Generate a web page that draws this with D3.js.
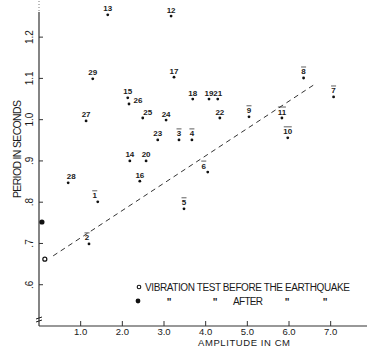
<!DOCTYPE html>
<html>
<head>
<meta charset="utf-8">
<script src="https://cdn.jsdelivr.net/npm/d3@7"></script>
<style>
  body { margin: 0; background: #fff; }
  text { font-family: "Liberation Sans", Arial, sans-serif; fill: #1a1a1a; }
</style>
</head>
<body>
<div id="chart-area"></div>
<script>
// building numbers, amplitude (cm) and period (s)
var ids       = [13, 12, 29, 27, 15, 26, 17, 18, 19, 21, 25, 24, 22, 23, 3, 4, 14, 20, 16, 6, 5, 8, 7, 9, 11, 10, 28, 1, 2];
var amplitude = [1.65, 3.17, 1.29, 1.13, 2.13, 2.16, 3.24, 3.69, 4.08, 4.29, 2.49, 3.05, 4.34, 2.85, 3.36, 3.67, 2.18, 2.57, 2.42, 4.05, 3.48, 6.35, 7.07, 5.04, 5.83, 5.97, 0.70, 1.41, 1.20];
var period    = [1.254, 1.251, 1.099, 0.997, 1.053, 1.038, 1.103, 1.050, 1.050, 1.050, 1.004, 0.999, 1.004, 0.951, 0.951, 0.951, 0.900, 0.900, 0.851, 0.873, 0.784, 1.101, 1.055, 1.007, 1.004, 0.956, 0.847, 0.801, 0.699];
// vibration test points
var beforePoint = [0.14, 0.662];
var afterPoint  = [0.07, 0.752];
// dashed trend line
var trendAmp    = [0.34, 6.59];
var trendPeriod = [0.670, 1.084];
var xTicks = [1, 2, 3, 4, 5, 6, 7];
var xTickLabels = ["1.0", "2.0", "3.0", "4.0", "5.0", "6.0", "7.0"];
var yTicks = [0.6, 0.7, 0.8, 0.9, 1.0, 1.1, 1.2];
var yTickLabels = [".6", ".7", ".8", ".9", "1.0", "1.1", "1.2"];

var W = 371, H = 347;
var svg = d3.select("#chart-area").append("svg")
    .attr("width", W)
    .attr("height", H);

var x = d3.scaleLinear().domain([0, 7.8]).range([39, 364]);
var y = d3.scaleLinear().domain([0.5, 1.29]).range([326, 0]);

// axes lines
svg.append("line")
    .attr("x1", 39).attr("x2", 39)
    .attr("y1", 12).attr("y2", y(0.5))
    .attr("stroke", "#333").attr("stroke-width", 1.2);
svg.append("line")
    .attr("x1", 39).attr("x2", 39)
    .attr("y1", 1).attr("y2", 12)
    .attr("stroke", "#777").attr("stroke-width", 1)
    .attr("stroke-dasharray", "1,2");
svg.append("line")
    .attr("x1", 39).attr("x2", 367)
    .attr("y1", y(0.5)).attr("y2", y(0.5))
    .attr("stroke", "#333").attr("stroke-width", 1.2);

// axis break mark
svg.append("path")
    .attr("d", "M36,319 l6,-2 M36,322 l6,-2")
    .attr("stroke", "#222").attr("stroke-width", 1).attr("fill", "none");

// x ticks
var xAxisG = svg.append("g");
xAxisG.selectAll("line").data(xTicks).enter().append("line")
    .attr("x1", function(d) { return x(d); })
    .attr("x2", function(d) { return x(d); })
    .attr("y1", y(0.5)).attr("y2", y(0.5) - 5)
    .attr("stroke", "#333");
xAxisG.selectAll("text").data(xTicks).enter().append("text")
    .attr("x", function(d) { return x(d); })
    .attr("y", 335)
    .attr("text-anchor", "middle")
    .attr("font-size", "9.5px")
    .text(function(d, i) { return xTickLabels[i]; });

// y ticks
var yAxisG = svg.append("g");
yAxisG.selectAll("line").data(yTicks).enter().append("line")
    .attr("x1", 39).attr("x2", 43)
    .attr("y1", function(d) { return y(d); })
    .attr("y2", function(d) { return y(d); })
    .attr("stroke", "#333");
yAxisG.selectAll("text").data(yTicks).enter().append("text")
    .attr("transform", function(d) { return "translate(33," + y(d) + ") rotate(-90)"; })
    .attr("text-anchor", "middle")
    .attr("font-size", "10px")
    .text(function(d, i) { return yTickLabels[i]; });

// axis titles
svg.append("text")
    .attr("x", 244).attr("y", 346)
    .attr("text-anchor", "middle")
    .attr("font-size", "9.5px")
    .attr("textLength", 92)
    .text("AMPLITUDE  IN CM");
svg.append("text")
    .attr("transform", "translate(21,149) rotate(-90)")
    .attr("text-anchor", "middle")
    .attr("font-size", "10.5px")
    .attr("textLength", 98)
    .text("PERIOD IN SECONDS");

// trend line
svg.append("line")
    .attr("x1", x(trendAmp[0])).attr("y1", y(trendPeriod[0]))
    .attr("x2", x(trendAmp[1])).attr("y2", y(trendPeriod[1]))
    .attr("stroke", "#333").attr("stroke-width", 1)
    .attr("stroke-dasharray", "5,4");

// points
var pts = ids.map(function(id, i) { return { id: id, a: amplitude[i], p: period[i] }; });
var nudge = { 26: [9, 3], 25: [5, 0], 6: [-4, 0], 28: [3, 0], 1: [-3, 0], 2: [-2, 0] };

svg.selectAll("circle.pt").data(pts).enter().append("circle")
    .attr("class", "pt")
    .attr("cx", function(d) { return x(d.a); })
    .attr("cy", function(d) { return y(d.p); })
    .attr("r", 1.4)
    .attr("fill", "#111");

var lab = svg.selectAll("g.lab").data(pts).enter().append("g")
    .attr("class", "lab")
    .attr("transform", function(d) {
        var n = nudge[d.id] || [0, 0];
        return "translate(" + (x(d.a) + n[0]) + "," + (y(d.p) - 3.5 + n[1]) + ")";
    });
lab.append("text")
    .attr("text-anchor", "middle")
    .attr("font-size", "8px")
    .attr("font-weight", "bold")
    .text(function(d) { return d.id; });
lab.filter(function(d) { return d.id <= 11; }).append("line")
    .attr("x1", function(d) { return d.id >= 10 ? -4 : -2.5; })
    .attr("x2", function(d) { return d.id >= 10 ? 4 : 2.5; })
    .attr("y1", -7.5).attr("y2", -7.5)
    .attr("stroke", "#333").attr("stroke-width", 0.8);

// vibration test markers
svg.append("circle")
    .attr("cx", x(beforePoint[0])).attr("cy", y(beforePoint[1]))
    .attr("r", 2).attr("fill", "none").attr("stroke", "#111").attr("stroke-width", 1.2);
svg.append("circle")
    .attr("cx", x(afterPoint[0])).attr("cy", y(afterPoint[1]))
    .attr("r", 2.6).attr("fill", "#111");

// legend
var legend = svg.append("g");
legend.append("circle")
    .attr("cx", 139).attr("cy", 287).attr("r", 1.8)
    .attr("fill", "none").attr("stroke", "#111").attr("stroke-width", 1.1);
legend.append("text")
    .attr("x", 145).attr("y", 291)
    .attr("font-size", "10px")
    .attr("textLength", 205)
    .text("VIBRATION TEST  BEFORE THE EARTHQUAKE");
legend.append("circle")
    .attr("cx", 138).attr("cy", 301).attr("r", 2.4).attr("fill", "#111");
var dittoX = [169, 215, 287, 325];
legend.selectAll("text.ditto").data(dittoX).enter().append("text")
    .attr("class", "ditto")
    .attr("x", function(d) { return d; })
    .attr("y", 306)
    .attr("text-anchor", "middle")
    .attr("font-size", "10px")
    .attr("font-weight", "bold")
    .text("\"");
legend.append("text")
    .attr("x", 233).attr("y", 305)
    .attr("font-size", "10px")
    .attr("textLength", 30)
    .text("AFTER");
</script>
</body>
</html>
